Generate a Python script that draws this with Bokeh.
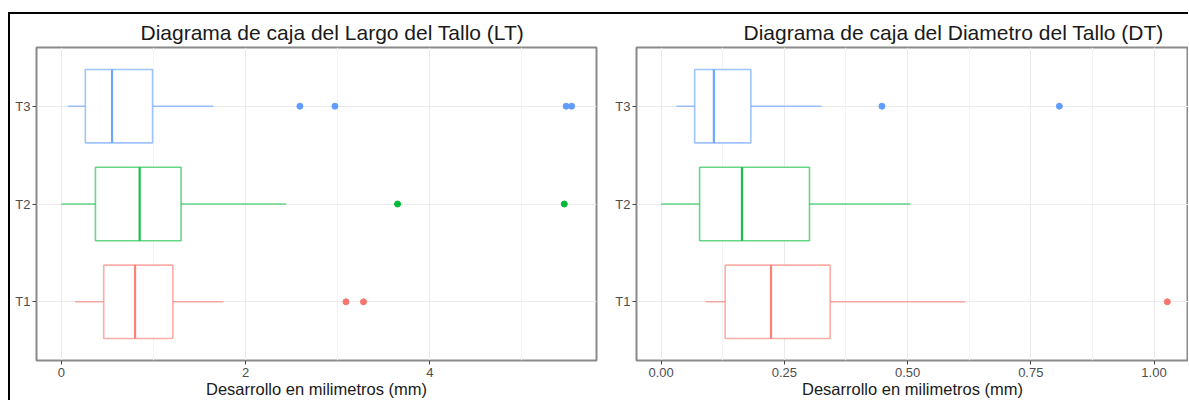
from bokeh.plotting import figure
from bokeh.models import FixedTicker, Range1d, Row, NumeralTickFormatter
from bokeh.embed import file_html
from bokeh.resources import INLINE

TREATMENTS = ["T1", "T2", "T3"]
COLORS = ["#F8766D", "#00BA38", "#619CFF"]

# Largo del Tallo (LT)
LT_LOWER = [0.15, 0.00, 0.07]
LT_Q1 = [0.46, 0.37, 0.26]
LT_MEDIAN = [0.80, 0.85, 0.55]
LT_Q3 = [1.21, 1.30, 0.99]
LT_UPPER = [1.76, 2.44, 1.65]
LT_OUTLIERS = [[3.09, 3.28], [3.65, 5.46], [2.59, 2.97, 5.48, 5.54]]
LT_TICKS = [0, 2, 4]
LT_TICK_LABELS = ["0", "2", "4"]
LT_MINOR = [1, 3, 5]

# Diametro del Tallo (DT)
DT_LOWER = [0.09, 0.00, 0.031]
DT_Q1 = [0.13, 0.078, 0.068]
DT_MEDIAN = [0.223, 0.164, 0.107]
DT_Q3 = [0.343, 0.301, 0.182]
DT_UPPER = [0.617, 0.506, 0.326]
DT_OUTLIERS = [[1.027], [], [0.448, 0.808]]
DT_TICKS = [0.0, 0.25, 0.5, 0.75, 1.0]
DT_TICK_LABELS = ["0.00", "0.25", "0.50", "0.75", "1.00"]
DT_MINOR = [0.125, 0.375, 0.625, 0.875]

FONT = "Liberation Sans"
BOX_W = 0.75


def make_panel(title, lower, q1, med, q3, upper, outliers, ticks, labels, minor,
               xr, width, bl, br, title_offset, fmt):
    p = figure(width=width, height=386, output_backend="svg", toolbar_location=None,
               x_range=Range1d(*xr), y_range=Range1d(0.4, 3.6),
               min_border_left=bl, min_border_right=br, min_border_top=32,
               min_border_bottom=30)
    ypos = [i + 1 for i in range(len(TREATMENTS))]
    p.segment(x0=lower, y0=ypos, x1=q1, y1=ypos, line_color=COLORS, line_width=1.6, line_alpha=0.6)
    p.segment(x0=q3, y0=ypos, x1=upper, y1=ypos, line_color=COLORS, line_width=1.6, line_alpha=0.6)
    p.hbar(y=ypos, left=q1, right=q3, height=BOX_W, fill_color="white",
           line_color=COLORS, line_width=1.6, line_alpha=0.6)
    p.segment(x0=med, y0=[y - BOX_W / 2 for y in ypos], x1=med, y1=[y + BOX_W / 2 for y in ypos],
              line_color=COLORS, line_width=2.2, line_alpha=0.9)
    ox, oy, oc = [], [], []
    for i, vals in enumerate(outliers):
        for v in vals:
            ox.append(v); oy.append(ypos[i]); oc.append(COLORS[i])
    p.scatter(x=ox, y=oy, size=6, color=oc)

    p.title.text = title
    p.title.text_font = FONT
    p.title.text_font_size = "21px"
    p.title.text_font_style = "normal"
    p.title.text_color = "#1a1a1a"
    p.title.align = "left"
    p.title.offset = title_offset
    p.title.standoff = 8

    p.outline_line_color = "#8a8a8a"
    p.outline_line_width = 2

    p.xaxis.ticker = FixedTicker(ticks=ticks, minor_ticks=minor)
    p.xaxis.formatter = NumeralTickFormatter(format=fmt)
    p.xaxis.major_label_overrides = {t: l for t, l in zip(ticks, labels)}
    p.yaxis.ticker = FixedTicker(ticks=ypos)
    p.yaxis.major_label_overrides = {y: t for y, t in zip(ypos, TREATMENTS)}
    for ax in (p.xaxis[0], p.yaxis[0]):
        ax.axis_line_color = None
        ax.major_tick_line_color = "#444444"
        ax.major_tick_out = 4
        ax.major_tick_in = 0
        ax.minor_tick_line_color = None
        ax.major_label_text_color = "#4d4d4d"
        ax.major_label_text_font = FONT
        ax.major_label_text_font_size = "13px"
    p.xaxis.major_label_standoff = 3
    p.yaxis.major_label_standoff = 2
    p.xaxis.axis_label = "Desarrollo en milimetros (mm)"
    p.xaxis.axis_label_text_font = FONT
    p.xaxis.axis_label_text_font_size = "16.5px"
    p.xaxis.axis_label_text_font_style = "normal"
    p.xaxis.axis_label_text_color = "#1a1a1a"
    p.xaxis.axis_label_standoff = 0

    p.xgrid.grid_line_color = "#ebebeb"
    p.xgrid.minor_grid_line_color = "#f3f3f3"
    p.ygrid.grid_line_color = "#ebebeb"
    p.ygrid.ticker = FixedTicker(ticks=ypos)
    p.background_fill_color = "white"
    p.border_fill_color = "white"
    return p


p1 = make_panel("Diagrama de caja del Largo del Tallo (LT)", LT_LOWER, LT_Q1, LT_MEDIAN, LT_Q3,
                LT_UPPER, LT_OUTLIERS, LT_TICKS, LT_TICK_LABELS, LT_MINOR,
                (-0.27, 5.81), 588, 26, 2, 104, "0")
p2 = make_panel("Diagrama de caja del Diametro del Tallo (DT)", DT_LOWER, DT_Q1, DT_MEDIAN, DT_Q3,
                DT_UPPER, DT_OUTLIERS, DT_TICKS, DT_TICK_LABELS, DT_MINOR,
                (-0.05, 1.07), 590, 38, 0, 107, "0.00")

layout = Row(children=[p1, p2], spacing=0,
             styles={"border-top": "2px solid black", "border-left": "2px solid black",
                     "margin-top": "12px", "margin-left": "8px"})

open("out.html", "w").write(file_html(layout, INLINE))
